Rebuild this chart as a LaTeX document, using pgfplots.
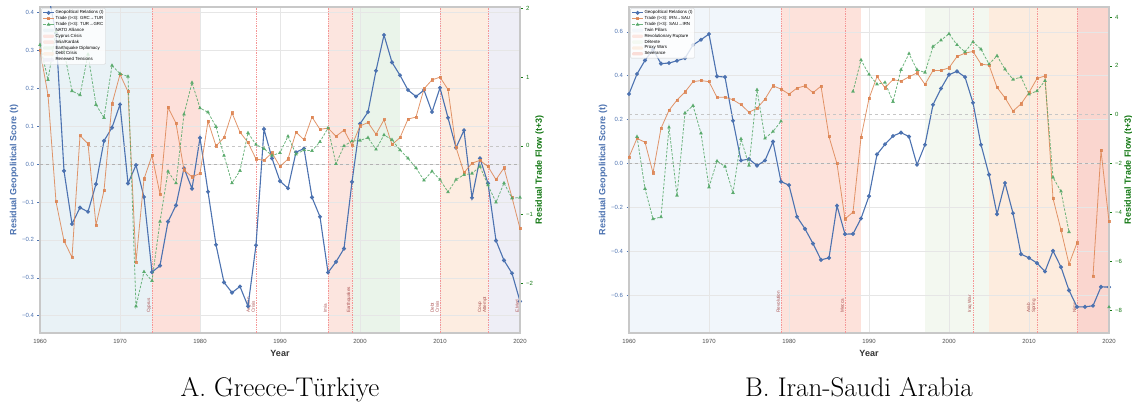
\documentclass[border=0pt]{standalone}
\usepackage{pgfplots}
\pgfplotsset{compat=1.18}
\usepackage{fontspec}
\newfontfamily\lsans{Liberation Sans}
\definecolor{sbblue}{RGB}{76,114,176}
\definecolor{sborange}{RGB}{221,132,82}
\definecolor{sbgreen}{RGB}{85,168,104}
\definecolor{trgreen}{RGB}{20,120,20}
\definecolor{evline}{RGB}{245,150,150}
\definecolor{evtext}{RGB}{170,80,80}
\definecolor{gridc}{RGB}{230,230,230}
\definecolor{spine}{RGB}{200,200,200}
% regions A
\definecolor{aNATO}{RGB}{233,242,246}
\definecolor{aCyp}{RGB}{253,224,218}
\definecolor{aImia}{RGB}{252,229,223}
\definecolor{aEq}{RGB}{234,244,234}
\definecolor{aDebt}{RGB}{253,237,225}
\definecolor{aRen}{RGB}{238,238,246}
% regions B
\definecolor{bTwin}{RGB}{241,246,251}
\definecolor{bRev}{RGB}{253,226,219}
\definecolor{bDet}{RGB}{243,248,240}
\definecolor{bProxy}{RGB}{253,236,222}
\definecolor{bSev}{RGB}{250,214,207}
\tikzset{
 evlab/.style={rotate=90, anchor=south west, align=left, font=\lsans\fontsize{4.6}{5}\selectfont, text=evtext, inner sep=0.8pt},
 ticktext/.style={font=\lsans\fontsize{6}{7}\selectfont},
 labtext/.style={font=\lsans\bfseries\fontsize{9}{10}\selectfont},
}
\pgfplotsset{
 geo/.style={color=sbblue, line width=1.1pt, mark=*, mark size=1.4pt, mark options={solid}},
 tra/.style={color=sborange, opacity=0.85, line width=0.8pt, mark=square*, mark size=1.1pt, mark options={solid}},
 trb/.style={color=sbgreen, opacity=0.85, line width=0.8pt, dash pattern=on 2.5pt off 1.5pt, mark=triangle*, mark size=1.4pt, mark options={solid}},
 regionleg/.style={legend image code/.code={\fill[##1, draw=none] (0cm,-0.055cm) rectangle (0.38cm,0.065cm);}},
 lineleg/.style={legend image code/.code={\draw[mark repeat=2,mark phase=2,##1] plot coordinates {(0cm,0cm) (0.19cm,0cm) (0.38cm,0cm)};}},
 base/.style={scale only axis, width=480pt, height=326pt, xmin=1960, xmax=2020, anchor=south west},
 leftax/.style={base, grid=major, grid style={gridc, line width=0.6pt},
   xtick={1960,1970,1980,1990,2000,2010,2020},
   xticklabels={1960,1970,1980,1990,2000,2010,2020},
   tick pos=left, tick align=outside, major tick length=2.5pt,
   xtick style={draw=none}, ytick style={sbblue, line width=0.6pt},
   xticklabel style={ticktext, text=black!70},
   yticklabel style={ticktext, text=sbblue},
   axis line style={spine, line width=1.1pt},
   xlabel={Year}, xlabel style={labtext, text=black!80},
   ylabel={Residual Geopolitical Score (t)}, ylabel style={labtext, text=sbblue}, ylabel shift=-3pt,
   unbounded coords=jump},
 rightax/.style={base, axis y line*=right, axis x line=none, tick align=outside, major tick length=2.5pt,
   ytick style={trgreen, line width=0.6pt},
   yticklabel style={ticktext, text=trgreen},
   y axis line style={spine, line width=1.1pt},
   ylabel={Residual Trade Flow (t+3)}, ylabel style={labtext, text=trgreen}, ylabel shift=-4.5pt,
   unbounded coords=jump, lineleg,
   legend style={at={(0.003,0.996)}, anchor=north west, font=\lsans\fontsize{4.4}{5}\selectfont,
     fill=white, fill opacity=0.8, text opacity=1, draw=gray!35, line width=0.4pt,
     rounded corners=1pt, inner sep=1pt, row sep=-0.8pt, cells={anchor=west}, nodes={inner sep=1pt}}},
}
\newcommand{\evline}[1]{\draw[evline, line width=0.7pt, densely dotted] ({axis cs:#1,0} |- {rel axis cs:0,0}) -- ({axis cs:#1,0} |- {rel axis cs:0,1});}
\begin{document}
\begin{tikzpicture}
\path[use as bounding box] (0,0) rectangle (1132pt,406pt);

%%%%%%%%%%%%%%%% PANEL A %%%%%%%%%%%%%%%%
\begin{axis}[base, at={(40pt,73pt)}, ymin=0, ymax=1, hide axis]
\fill[aNATO] (axis cs:1960,0) rectangle (axis cs:1974,1);
\fill[aCyp] (axis cs:1974,0) rectangle (axis cs:1980,1);
\fill[aImia] (axis cs:1996,0) rectangle (axis cs:1999,1);
\fill[aEq] (axis cs:1999,0) rectangle (axis cs:2005,1);
\fill[aDebt] (axis cs:2010,0) rectangle (axis cs:2016,1);
\fill[aRen] (axis cs:2016,0) rectangle (axis cs:2020,1);
\end{axis}

\begin{axis}[leftax, at={(40pt,73pt)}, ymin=-0.4455, ymax=0.414,
  ytick={-0.4,-0.3,-0.2,-0.1,0,0.1,0.2,0.3,0.4},
  yticklabels={−0.4,−0.3,−0.2,−0.1,0.0,0.1,0.2,0.3,0.4}]
\draw[gray!60, dashed, line width=0.5pt] (axis cs:1960,0) -- (axis cs:2020,0);
\evline{1974}\evline{1987}\evline{1996}\evline{1999}\evline{2010}\evline{2016}\evline{2020}
\node[evlab] at (axis cs:1974,-0.395) {Cyprus};
\node[evlab] at (axis cs:1987,-0.395) {Aegean\\Crisis};
\node[evlab] at (axis cs:1996,-0.395) {Imia};
\node[evlab] at (axis cs:1999,-0.395) {Earthquakes};
\node[evlab] at (axis cs:2010,-0.395) {Debt\\Crisis};
\node[evlab] at (axis cs:2016,-0.395) {Coup\\Attempt};
\node[evlab] at (axis cs:2020,-0.395) {E.Med};
\addplot[geo] coordinates {
(1960,0.44)(1961,0.45)(1962,0.345)(1963,-0.018)(1964,-0.158)(1965,-0.115)(1966,-0.126)(1967,-0.053)(1968,0.061)(1969,0.096)
(1970,0.157)(1971,-0.051)(1972,-0.003)(1973,-0.087)(1974,-0.285)(1975,-0.268)(1976,-0.152)(1977,-0.109)(1978,-0.011)(1979,-0.065)
(1980,0.069)(1981,-0.073)(1982,-0.213)(1983,-0.312)(1984,-0.339)(1985,-0.323)(1986,-0.375)(1987,-0.214)(1988,0.092)(1989,0.015)
(1990,-0.045)(1991,-0.064)(1992,0.031)(1993,0.041)(1994,-0.088)(1995,-0.139)(1996,-0.286)(1997,-0.258)(1998,-0.223)(1999,-0.047)
(2000,0.106)(2001,0.137)(2002,0.246)(2003,0.340)(2004,0.268)(2005,0.234)(2006,0.195)(2007,0.178)(2008,0.195)(2009,0.137)
(2010,0.201)(2011,0.122)(2012,0.043)(2013,0.089)(2014,-0.089)(2015,0.015)(2016,-0.051)(2017,-0.202)(2018,-0.254)(2019,-0.288)
(2020,-0.362)};
\end{axis}

\begin{axis}[rightax, at={(40pt,73pt)}, ymin=-2.72, ymax=2.02,
  ytick={-2,-1,0,1,2}, yticklabels={−2,−1,0,1,2}]
\draw[gray!45, dashed, line width=0.5pt] (axis cs:1960,0) -- (axis cs:2020,0);
\addlegendimage{geo}\addlegendentry{Geopolitical Relations (t)}
\addplot[tra] coordinates {
(1960,1.39)(1961,0.74)(1962,-0.81)(1963,-1.38)(1964,-1.62)(1965,0.15)(1966,0.03)(1967,-1.15)(1968,-0.65)(1969,0.61)
(1970,1.04)(1971,0.79)(1972,-1.69)(1973,-0.48)(1974,-0.14)(1975,-0.70)(1976,0.56)(1977,0.33)(1978,-0.35)(1979,-0.45)
(1980,-0.40)(1981,0.36)(1982,0.00)(1983,0.12)(1984,0.48)(1985,0.20)(1986,0.05)(1987,-0.19)(1988,-0.21)(1989,-0.10)
(1990,-0.30)(1991,-0.19)(1992,0.20)(1993,0.09)(1994,0.42)(1995,0.24)(1996,0.26)(1997,0.14)(1998,0.23)(1999,0.01)
(2000,0.29)(2001,0.34)(2002,0.17)(2003,0.38)(2004,0.02)(2005,0.12)(2006,0.39)(2007,0.42)(2008,0.83)(2009,0.96)
(2010,1.00)(2011,0.82)(2012,-0.02)(2013,-0.39)(2014,-0.25)(2015,-0.21)(2016,-0.30)(2017,-0.49)(2018,-0.32)(2019,-0.75)
(2020,-1.20)};
\addlegendentry{Trade (t+3): GRC→TUR}
\addplot[trb] coordinates {
(1960,1.47)(1961,0.96)(1962,1.66)(1963,1.38)(1964,0.80)(1965,0.74)(1966,1.33)(1967,0.60)(1968,0.41)(1969,1.17)
(1970,1.05)(1971,1.01)(1972,-2.33)(1973,-1.83)(1974,-1.96)(1975,-1.10)(1976,-0.37)(1977,-0.54)(1978,0.46)(1979,0.92)
(1980,0.55)(1981,0.49)(1982,0.28)(1983,-0.14)(1984,-0.54)(1985,-0.36)(1986,0.19)(1987,0.02)(1988,-0.04)(1989,-0.14)
(1990,-0.10)(1991,0.14)(1992,-0.12)(1993,-0.06)(1994,-0.07)(1995,0.06)(1996,0.26)(1997,-0.26)(1998,0.00)(1999,0.07)
(2000,0.08)(2001,0.12)(2002,-0.05)(2003,0.16)(2004,0.09)(2005,-0.06)(2006,-0.18)(2007,-0.32)(2008,-0.50)(2009,-0.37)
(2010,-0.49)(2011,-0.67)(2012,-0.49)(2013,-0.42)(2014,-0.40)(2015,-0.30)(2016,-0.57)(2017,-0.82)(2018,-0.54)(2019,-0.76)
(2020,-0.75)};
\addlegendentry{Trade (t+3): TUR→GRC}
\addlegendimage{regionleg, fill=aNATO, draw=none}\addlegendentry{NATO Alliance}
\addlegendimage{regionleg, fill=aCyp, draw=none}\addlegendentry{Cyprus Crisis}
\addlegendimage{regionleg, fill=aImia, draw=none}\addlegendentry{Imia/Kardak}
\addlegendimage{regionleg, fill=aEq, draw=none}\addlegendentry{Earthquake Diplomacy}
\addlegendimage{regionleg, fill=aDebt, draw=none}\addlegendentry{Debt Crisis}
\addlegendimage{regionleg, fill=aRen, draw=none}\addlegendentry{Renewed Tensions}
\end{axis}

%%%%%%%%%%%%%%%% PANEL B %%%%%%%%%%%%%%%%
\begin{axis}[base, at={(629pt,73pt)}, ymin=0, ymax=1, hide axis]
\fill[bTwin] (axis cs:1960,0) rectangle (axis cs:1979,1);
\fill[bRev] (axis cs:1979,0) rectangle (axis cs:1989,1);
\fill[bDet] (axis cs:1997,0) rectangle (axis cs:2005,1);
\fill[bProxy] (axis cs:2005,0) rectangle (axis cs:2016,1);
\fill[bSev] (axis cs:2016,0) rectangle (axis cs:2020,1);
\end{axis}

\begin{axis}[leftax, at={(629pt,73pt)}, ymin=-0.771, ymax=0.713,
  ytick={-0.6,-0.4,-0.2,0,0.2,0.4,0.6},
  yticklabels={−0.6,−0.4,−0.2,0.0,0.2,0.4,0.6}]
\draw[gray!60, dashed, line width=0.5pt] (axis cs:1960,0) -- (axis cs:2020,0);
\evline{1979}\evline{1987}\evline{2003}\evline{2011}\evline{2016}
\node[evlab] at (axis cs:1979,-0.683) {Revolution};
\node[evlab] at (axis cs:1987,-0.683) {Mecca};
\node[evlab] at (axis cs:2003,-0.683) {Iraq War};
\node[evlab] at (axis cs:2011,-0.683) {Arab\\Spring};
\node[evlab] at (axis cs:2016,-0.683) {Nimr};
\addplot[geo] coordinates {
(1960,0.317)(1961,0.408)(1962,0.47)(1963,0.52)(1964,0.455)(1965,0.458)(1966,0.468)(1967,0.48)(1968,0.54)(1969,0.564)
(1970,0.59)(1971,0.397)(1972,0.394)(1973,0.195)(1974,0.014)(1975,0.021)(1976,-0.009)(1977,0.014)(1978,0.100)(1979,-0.082)
(1980,-0.098)(1981,-0.242)(1982,-0.297)(1983,-0.364)(1984,-0.438)(1985,-0.429)(1986,-0.192)(1987,-0.321)(1988,-0.320)(1989,-0.250)
(1990,-0.148)(1991,0.042)(1992,0.088)(1993,0.126)(1994,0.141)(1995,0.123)(1996,-0.005)(1997,0.086)(1998,0.268)(1999,0.342)
(2000,0.405)(2001,0.420)(2002,0.394)(2003,0.277)(2004,0.086)(2005,-0.050)(2006,-0.230)(2007,-0.088)(2008,-0.226)(2009,-0.412)
(2010,-0.429)(2011,-0.453)(2012,-0.491)(2013,-0.397)(2014,-0.471)(2015,-0.577)(2016,-0.652)(2017,-0.652)(2018,-0.647)(2019,-0.561)
(2020,-0.562)};
\end{axis}

\begin{axis}[rightax, at={(629pt,73pt)}, ymin=-8.94, ymax=4.41,
  ytick={-8,-6,-4,-2,0,2,4}, yticklabels={−8,−6,−4,−2,0,2,4}]
\draw[gray!45, dashed, line width=0.5pt] (axis cs:1960,0) -- (axis cs:2020,0);
\addlegendimage{geo}\addlegendentry{Geopolitical Relations (t)}
\addplot[tra] coordinates {
(1960,-1.74)(1961,-0.97)(1962,-1.13)(1963,-2.38)(1964,-0.56)(1965,0.18)(1966,0.60)(1967,0.93)(1968,1.35)(1969,1.40)
(1970,1.35)(1971,0.71)(1972,0.72)(1973,0.61)(1974,0.41)(1975,0.10)(1976,0.26)(1977,0.64)(1978,1.18)(1979,1.05)
(1980,0.84)(1981,1.09)(1982,1.18)(1983,0.90)(1984,1.17)(1985,-0.90)(1986,-2.01)(1987,-4.27)(1988,-3.99)(1989,-0.93)
(1990,0.66)(1991,1.56)(1992,1.10)(1993,1.44)(1994,1.37)(1995,1.55)(1996,1.71)(1997,1.24)(1998,1.81)(1999,1.81)
(2000,1.92)(2001,2.38)(2002,2.52)(2003,2.59)(2004,2.07)(2005,2.03)(2006,1.12)(2007,0.69)(2008,0.15)(2009,0.44)
(2010,0.91)(2011,1.48)(2012,1.59)(2013,-3.43)(2014,-4.72)(2015,-6.12)(2016,-5.25)(2017,nan)(2018,-6.61)(2019,-1.47)
(2020,-4.37)};
\addlegendentry{Trade (t+3): IRN→SAU}
\addplot[trb] coordinates {
(1960,nan)(1961,-0.90)(1962,-3.03)(1963,-4.27)(1964,-4.19)(1965,-0.52)(1966,-3.31)(1967,0.07)(1968,0.37)(1969,-0.76)
(1970,-2.97)(1971,-1.90)(1972,-2.12)(1973,-3.20)(1974,-0.99)(1975,-2.08)(1976,1.02)(1977,-0.97)(1978,-0.69)(1979,-0.27)
(1980,nan)(1987,nan)(1988,0.95)(1989,2.24)
(1990,1.65)(1991,1.25)(1992,1.32)(1993,0.53)(1994,1.84)(1995,2.50)(1996,1.84)(1997,1.73)(1998,2.79)(1999,3.05)
(2000,3.31)(2001,2.86)(2002,2.57)(2003,2.98)(2004,2.68)(2005,2.07)(2006,2.41)(2007,1.86)(2008,1.44)(2009,1.54)
(2010,0.84)(2011,0.97)(2012,1.39)(2013,-2.57)(2014,-3.14)(2015,-4.80)(2016,nan)(2019,nan)
(2020,-7.88)};
\addlegendentry{Trade (t+3): SAU→IRN}
\addlegendimage{regionleg, fill=bTwin, draw=none}\addlegendentry{Twin Pillars}
\addlegendimage{regionleg, fill=bRev, draw=none}\addlegendentry{Revolutionary Rupture}
\addlegendimage{regionleg, fill=bDet, draw=none}\addlegendentry{Détente}
\addlegendimage{regionleg, fill=bProxy, draw=none}\addlegendentry{Proxy Wars}
\addlegendimage{regionleg, fill=bSev, draw=none}\addlegendentry{Severance}
\end{axis}

\node[font=\fontsize{27}{30}\selectfont, anchor=base] at (280pt,9pt) {A. Greece-Türkiye};
\node[font=\fontsize{27}{30}\selectfont, anchor=base] at (859pt,9pt) {B. Iran-Saudi Arabia};
\end{tikzpicture}
\end{document}
